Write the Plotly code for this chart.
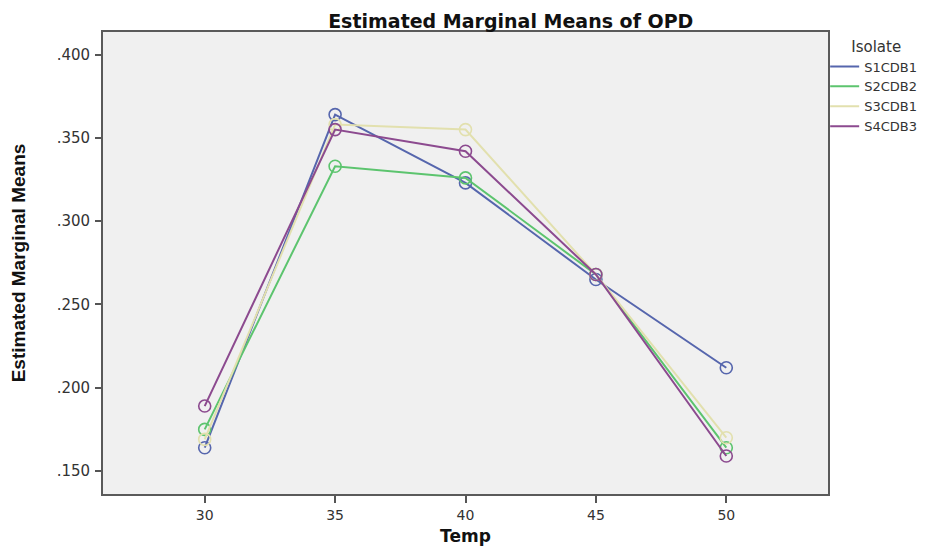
import plotly.graph_objects as go

temps = [30, 35, 40, 45, 50]
series_names = ["S1CDB1", "S2CDB2", "S3CDB1", "S4CDB3"]
s1cdb1 = [0.164, 0.364, 0.323, 0.265, 0.212]
s2cdb2 = [0.175, 0.333, 0.326, 0.268, 0.164]
s3cdb1 = [0.169, 0.358, 0.355, 0.268, 0.170]
s4cdb3 = [0.189, 0.355, 0.342, 0.268, 0.159]
y_tick_vals = [0.150, 0.200, 0.250, 0.300, 0.350, 0.400]
y_tick_text = [".150", ".200", ".250", ".300", ".350", ".400"]
x_tick_vals = [30, 35, 40, 45, 50]

colors = ["#5666ad", "#5cc46e", "#e2e0ae", "#8c4a8f"]
values = [s1cdb1, s2cdb2, s3cdb1, s4cdb3]

fig = go.Figure()
for name, vals, c in zip(series_names, values, colors):
    fig.add_trace(go.Scatter(
        x=temps, y=vals, name=name, mode="lines+markers", showlegend=False,
        legendgroup=name,
        line=dict(color=c, width=2),
        marker=dict(symbol="circle-open", size=12, color=c, line=dict(width=1.6, color=c)),
    ))
# legend-only entries (line swatches, as in the reference legend)
for name, c in zip(series_names, colors):
    fig.add_trace(go.Scatter(
        x=[None], y=[None], name=name, mode="lines", legendgroup=name,
        line=dict(color=c, width=2), showlegend=True,
    ))

fig.update_layout(
    width=938, height=538,
    margin=dict(l=95, r=118, t=24, b=52),
    paper_bgcolor="white", plot_bgcolor="#f0f0f0",
    font=dict(family="DejaVu Sans, sans-serif", color="#333"),
    title=dict(text="<b>Estimated Marginal Means of OPD</b>", xref="container", x=0.536,
               xanchor="center", y=0.976, yanchor="middle",
               font=dict(size=19, color="#111", family="DejaVu Sans, sans-serif")),
    showlegend=True,
    legend=dict(
        title=dict(text="Isolate", font=dict(size=15, color="#333"), side="top center"),
        x=1.003, xanchor="left", y=1.0, yanchor="top",
        font=dict(size=13, color="#333"), bgcolor="rgba(0,0,0,0)",
        itemwidth=30, tracegroupgap=0, indentation=-6,
    ),
    xaxis=dict(
        range=[26.1, 53.9], tickvals=x_tick_vals, ticks="outside", ticklen=7,
        tickwidth=1.5, tickcolor="#555", showgrid=False, zeroline=False,
        showline=True, linecolor="#5a5a5a", linewidth=1.8, mirror=True,
        tickfont=dict(size=14, color="#333"), automargin=False,
        title=dict(text="<b>Temp</b>", font=dict(size=17, color="#111"), standoff=10),
    ),
    yaxis=dict(
        range=[0.1362, 0.4136], tickvals=y_tick_vals, ticktext=y_tick_text,
        ticks="outside", ticklen=6, tickwidth=1.5, tickcolor="#555",
        ticklabelstandoff=2, automargin=False,
        showgrid=False, zeroline=False,
        showline=True, linecolor="#5a5a5a", linewidth=1.8, mirror=True,
        tickfont=dict(size=15, color="#333"),
        title=dict(text="<b>Estimated Marginal Means</b>",
                   font=dict(size=19, color="#111", family="Liberation Sans, Arial, sans-serif"),
                   standoff=26),
    ),
)

fig.write_html("out.html")
